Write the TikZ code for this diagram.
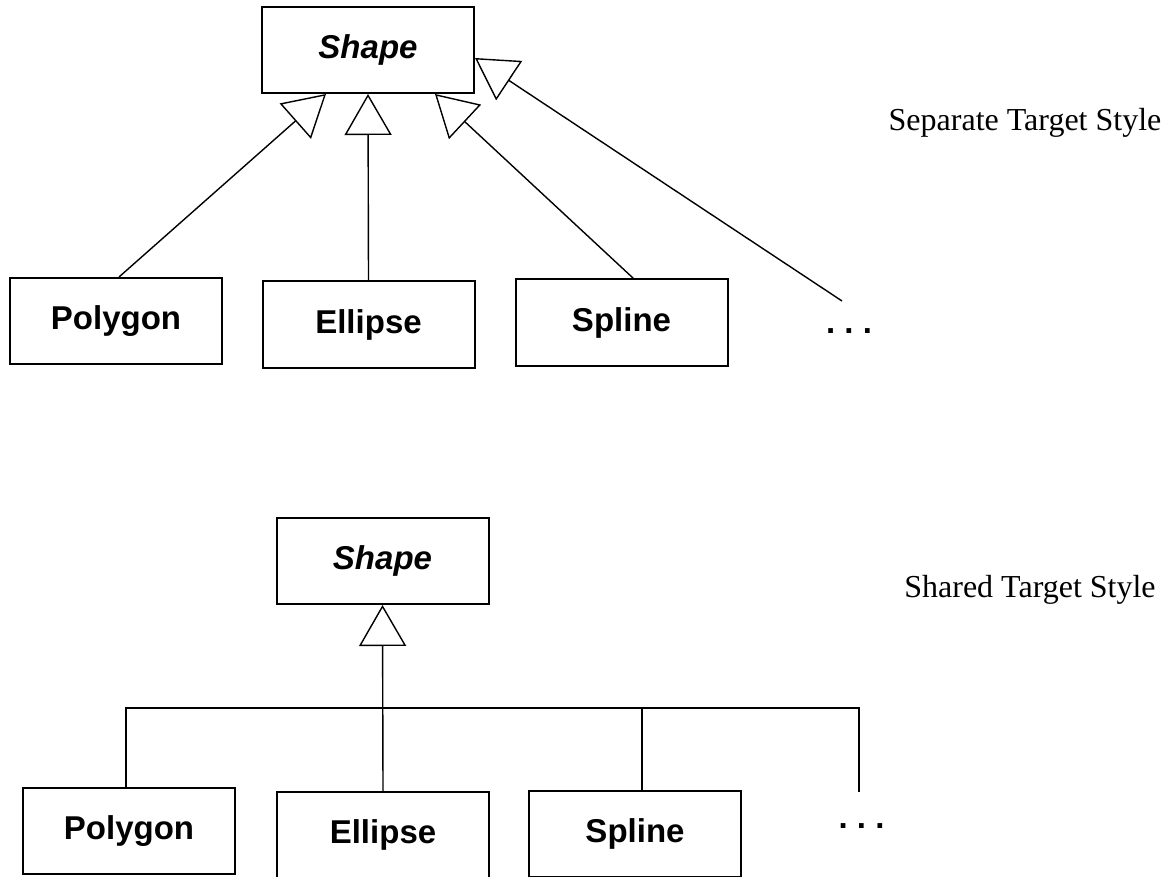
\documentclass[tikz,border=0pt]{standalone}
\usepackage{fontspec}
\setmainfont{Liberation Serif}
\setsansfont{Liberation Sans}
\usetikzlibrary{arrows.meta,positioning}

\begin{document}
\begin{tikzpicture}[x=10pt,y=10pt]
                \tikzstyle{every node}+=[inner sep=0pt]
                \tikzstyle{classbox}=[draw=black, line width=2pt, minimum width=212pt, minimum height=86pt, font=\sffamily\bfseries\fontsize{33}{39}\selectfont]
                \tikzstyle{abstractbox}=[classbox, font=\sffamily\bfseries\itshape\fontsize{33}{39}\selectfont]
                \tikzstyle{etcdots}=[font=\sffamily\bfseries\fontsize{33}{39}\selectfont]
                \tikzstyle{stylelabel}=[anchor=base, font=\fontsize{32}{38}\selectfont]
                \tikzstyle{isa}=[draw=black, line width=1.4pt, -{Triangle[open, length=41pt, width=47pt]}]
                \tikzstyle{tree}=[draw=black, line width=1.7pt]
                \useasboundingbox (0,0) rectangle (117,-87.7);
                % separate targets
                \node[abstractbox] (shp1) at (36.8,-5.0) {Shape};
                \node[classbox] (poly1) at (11.6,-32.1) {Polygon};
                \node[classbox] (ell1) at (36.85,-32.45) {Ellipse};
                \node[classbox] (spl1) at (62.15,-32.25) {Spline};
                \node[etcdots] (etc1) at (84.9,-33.1) {.\ .\ .};
                \node[stylelabel] (sep) at (102.5,-13.1) {Separate Target Style};
                \coordinate (etc1end) at (84.2,-30.1);
                \draw[isa] ([xshift=3pt]poly1.north) -- ([xshift=-42pt]shp1.south);
                \draw[isa] (ell1.north) -- (shp1.south);
                \draw[isa] ([xshift=12pt]spl1.north) -- ([xshift=67pt]shp1.south);
                \draw[isa] (etc1end) -- ([yshift=-8pt]shp1.east);
                % shared target
                \node[abstractbox] (shp2) at (38.25,-56.1) {Shape};
                \node[classbox] (poly2) at (12.9,-83.1) {Polygon};
                \node[classbox] (ell2) at (38.3,-83.5) {Ellipse};
                \node[classbox] (spl2) at (63.5,-83.35) {Spline};
                \node[etcdots] (etc2) at (86.15,-82.6) {.\ .\ .};
                \node[stylelabel] (shr) at (103.0,-59.7) {Shared Target Style};
                \coordinate (etc2end) at (85.9,-79.2);
                \draw[isa] (ell2.north) -- (shp2.south);
                \draw[tree] ([xshift=-3pt]poly2.north) -- ++(0,7.9) -| (etc2end);
                \draw[tree] ([xshift=7pt]spl2.north) -- ++(0,8.2);
\end{tikzpicture}
\end{document}
